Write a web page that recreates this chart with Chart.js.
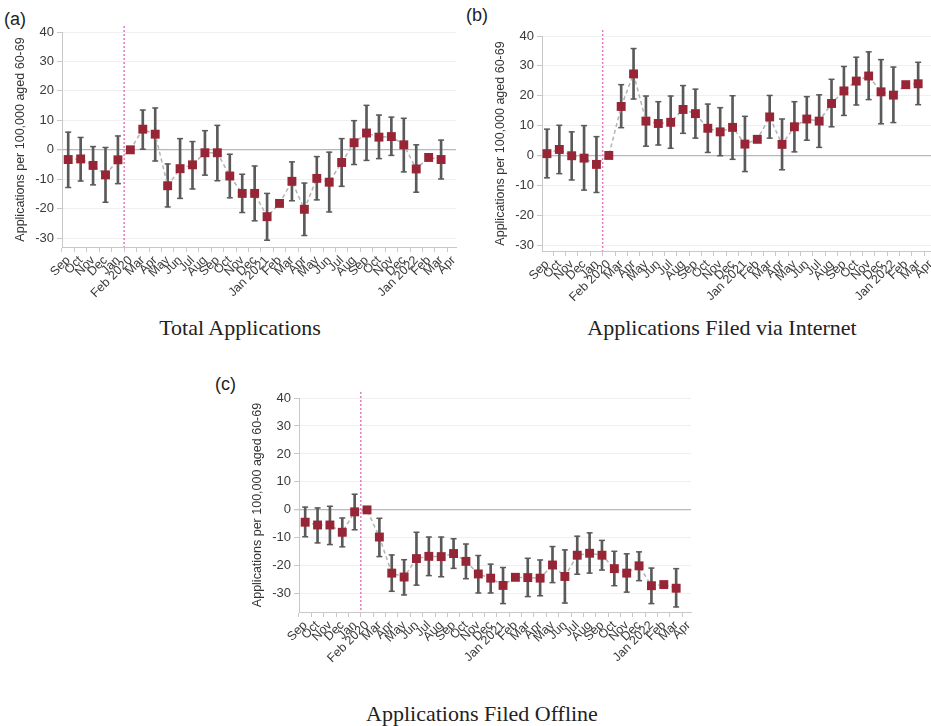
<!DOCTYPE html>
<html>
<head>
<meta charset="utf-8">
<script src="https://cdn.jsdelivr.net/npm/chart.js@4.4.1/dist/chart.umd.min.js"></script>
<style>
  html, body { margin: 0; padding: 0; background: #fff; overflow: hidden; }
  body { width: 931px; height: 726px; position: relative; }
  canvas { position: absolute; }
  .tag { position: absolute; font: 18px 'Liberation Sans', Arial, sans-serif; color: #222; line-height: 1; }
  .caption { position: absolute; font: 22px 'Liberation Serif', 'Times New Roman', serif; color: #222;
             line-height: 1; white-space: nowrap; transform: translateX(-50%); }
</style>
</head>
<body>
<div class="tag" style="left:4px;top:10px">(a)</div>
<div class="tag" style="left:466px;top:6px">(b)</div>
<div class="tag" style="left:215px;top:375px">(c)</div>

<canvas id="chartTotal" width="470" height="310" style="left:0;top:0"></canvas>
<canvas id="chartInternet" width="470" height="311" style="left:480px;top:0"></canvas>
<canvas id="chartOffline" width="470" height="312" style="left:237px;top:360px"></canvas>

<div class="caption" style="left:240px;top:317px">Total Applications</div>
<div class="caption" style="left:722px;top:317px">Applications Filed via Internet</div>
<div class="caption" style="left:482px;top:703px">Applications Filed Offline</div>

<script>
// Sep 2019 .. Apr 2022, Feb 2020 is the reference month
const months = ['Sep', 'Oct', 'Nov', 'Dec', 'Jan', 'Feb 2020', 'Mar', 'Apr', 'May', 'Jun', 'Jul', 'Aug',
  'Sep', 'Oct', 'Nov', 'Dec', 'Jan 2021', 'Feb', 'Mar', 'Apr', 'May', 'Jun', 'Jul', 'Aug',
  'Sep', 'Oct', 'Nov', 'Dec', 'Jan 2022', 'Feb', 'Mar', 'Apr'];
const yTicks = [-30, -20, -10, 0, 10, 20, 30, 40];
const BREAK_AT = 4.5; // between Jan and Feb 2020

// (a) total applications
const totalEst = [-3.3, -3.1, -5.3, -8.5, -3.4, 0, 7.0, 5.3, -12.2, -6.4, -5.1, -1.0, -1.0, -8.9, -14.8, -14.8,
  -22.7, -18.2, -10.7, -20.2, -9.7, -11.0, -4.3, 2.4, 5.7, 4.3, 4.5, 1.7, -6.5, -2.6, -3.3];
const totalHi = [6.0, 4.2, 1.1, 0.8, 4.7, null, 13.5, 14.2, -4.8, 3.8, 2.8, 6.5, 8.3, -1.5, -8.3, -5.5,
  -14.8, null, -4.1, -11.3, -2.3, -0.8, 3.8, 9.9, 15.1, 11.8, 11.1, 10.7, 1.7, null, 3.3];
const totalLo = [-12.8, -10.6, -11.9, -17.8, -11.5, null, 0.2, -3.8, -19.4, -16.5, -13.3, -8.6, -10.5, -16.3, -21.3, -24.1,
  -30.7, null, -17.3, -29.1, -17.0, -21.1, -12.4, -5.0, -3.6, -3.0, -1.9, -7.5, -14.4, null, -9.9];

// (b) filed via internet
const netEst = [0.6, 2.0, -0.1, -0.9, -3.0, 0, 16.4, 27.3, 11.5, 10.7, 11.1, 15.4, 14.0, 9.1, 7.9, 9.4,
  3.8, 5.4, 12.9, 3.7, 9.6, 12.2, 11.5, 17.4, 21.6, 24.9, 26.6, 21.3, 20.2, 23.7, 24.0];
const netHi = [8.8, 10.1, 7.9, 10.0, 6.3, null, 23.7, 35.8, 19.9, 18.0, 19.9, 23.4, 22.2, 17.2, 16.0, 20.0,
  13.1, null, 20.1, 12.2, 18.0, 19.7, 20.3, 25.5, 29.8, 32.9, 34.7, 32.1, 29.6, null, 31.2];
const netLo = [-7.5, -6.1, -8.2, -11.6, -12.4, null, 9.3, 18.9, 3.1, 3.5, 2.4, 7.4, 5.8, 1.0, -0.1, -1.3,
  -5.4, null, 5.8, -4.8, 1.2, 5.1, 2.7, 9.6, 13.4, 16.9, 18.7, 10.6, 11.0, null, 17.0];

// (c) filed offline
const offEst = [-4.4, -5.4, -5.4, -8.0, -0.7, 0, -9.7, -22.6, -24.0, -17.4, -16.6, -16.7, -15.6, -18.4, -22.9, -24.4,
  -27.0, -24.1, -24.2, -24.4, -19.7, -23.8, -16.2, -15.5, -16.2, -21.0, -22.6, -20.0, -27.1, -26.7, -28.0];
const offHi = [1.0, 0.7, 1.3, -2.9, 5.6, null, -3.0, -16.1, -17.8, -8.0, -9.7, -9.7, -10.3, -12.2, -16.3, -19.4,
  -20.6, null, -17.3, -17.9, -13.1, -14.3, -9.4, -8.2, -10.9, -14.8, -15.7, -15.0, -20.8, null, -21.0];
const offLo = [-9.6, -11.8, -12.4, -13.2, -7.1, null, -16.7, -29.1, -30.4, -26.9, -23.5, -23.9, -20.9, -24.6, -29.7, -29.7,
  -33.5, null, -31.0, -30.7, -26.0, -33.3, -23.0, -22.6, -21.5, -27.1, -29.4, -25.3, -33.5, null, -34.7];

const FONT = "'Liberation Sans', Arial, sans-serif";
const MARKER = '#982536';
const BAR = '#5a5a5a';

// dotted vertical marker at the start of the pandemic
const breakLine = {
  id: 'breakLine',
  afterDatasetsDraw(chart) {
    const { ctx, chartArea, scales } = chart;
    const x = scales.x.getPixelForValue(BREAK_AT);
    ctx.save();
    ctx.strokeStyle = '#e07cbc';
    ctx.lineWidth = 1.5;
    ctx.setLineDash([2, 2]);
    ctx.beginPath();
    ctx.moveTo(x, chartArea.top - 6);
    ctx.lineTo(x, chartArea.bottom);
    ctx.stroke();
    ctx.restore();
  }
};

function buildPanel(id, est, lo, hi, opts) {
  const bars = [], lows = [], highs = [];
  est.forEach((_, i) => {
    if (lo[i] === null) return;
    bars.push({ x: i, y: [lo[i], hi[i]] });
    lows.push({ x: i, y: lo[i] });
    highs.push({ x: i, y: hi[i] });
  });
  const cap = {
    data: null, showLine: false, pointStyle: 'line', pointRadius: 3,
    pointBorderColor: BAR, pointBorderWidth: 1.5, order: 1
  };

  new Chart(document.getElementById(id), {
    type: 'line',
    data: {
      datasets: [
        {
          data: est.map((v, i) => ({ x: i, y: v })),
          borderColor: '#b3b3b3', borderWidth: 1.5, borderDash: [4, 3], tension: 0,
          pointStyle: 'rect', pointRadius: 6.3, pointBackgroundColor: MARKER,
          pointBorderWidth: 0, order: 0
        },
        { type: 'bar', data: bars, backgroundColor: BAR, barThickness: 2, order: 2 },
        Object.assign({}, cap, { data: lows }),
        Object.assign({}, cap, { data: highs })
      ]
    },
    options: {
      responsive: false,
      animation: false,
      layout: { padding: opts.padding },
      plugins: { legend: { display: false }, tooltip: { enabled: false } },
      scales: {
        x: {
          type: 'linear', min: opts.xMin, max: 31.2, offset: false,
          afterBuildTicks: s => { s.ticks = months.map((_, i) => ({ value: i })); },
          afterFit: s => { s.height = 60; },
          grid: { drawOnChartArea: false, drawTicks: true, tickLength: 5, tickColor: '#c8c8c8' },
          border: { display: true, color: '#c8c8c8' },
          ticks: {
            autoSkip: false, minRotation: 45, maxRotation: 45, padding: 1,
            color: '#3a3a3a', font: { family: FONT, size: 12.5 },
            callback: v => months[v]
          }
        },
        y: {
          min: opts.yMin, max: 40,
          afterBuildTicks: s => { s.ticks = yTicks.map(v => ({ value: v })); },
          afterFit: s => { s.width = 62; },
          grid: {
            color: c => (c.tick && c.tick.value === 0 ? '#b8b8b8' : '#efefef'),
            lineWidth: c => (c.tick && c.tick.value === 0 ? 1.3 : 1),
            tickLength: 5, tickColor: '#c8c8c8'
          },
          border: { display: true, color: '#c8c8c8' },
          ticks: { padding: 3, color: '#3a3a3a', font: { family: FONT, size: 13 } },
          title: {
            display: true, text: 'Applications per 100,000 aged 60-69',
            color: '#333', font: { family: FONT, size: 12.5 }, padding: { top: 13, bottom: 0 }
          }
        }
      }
    },
    plugins: [breakLine]
  });
}

buildPanel('chartTotal', totalEst, totalLo, totalHi,
  { yMin: -33, xMin: -0.5, padding: { top: 32, right: 14, bottom: 3, left: 0 } });
buildPanel('chartInternet', netEst, netLo, netHi,
  { yMin: -32, xMin: -0.4, padding: { top: 36, right: 17, bottom: 0, left: 0 } });
buildPanel('chartOffline', offEst, offLo, offHi,
  { yMin: -36.5, xMin: -0.5, padding: { top: 38, right: 16, bottom: 0, left: 0 } });
</script>
</body>
</html>
